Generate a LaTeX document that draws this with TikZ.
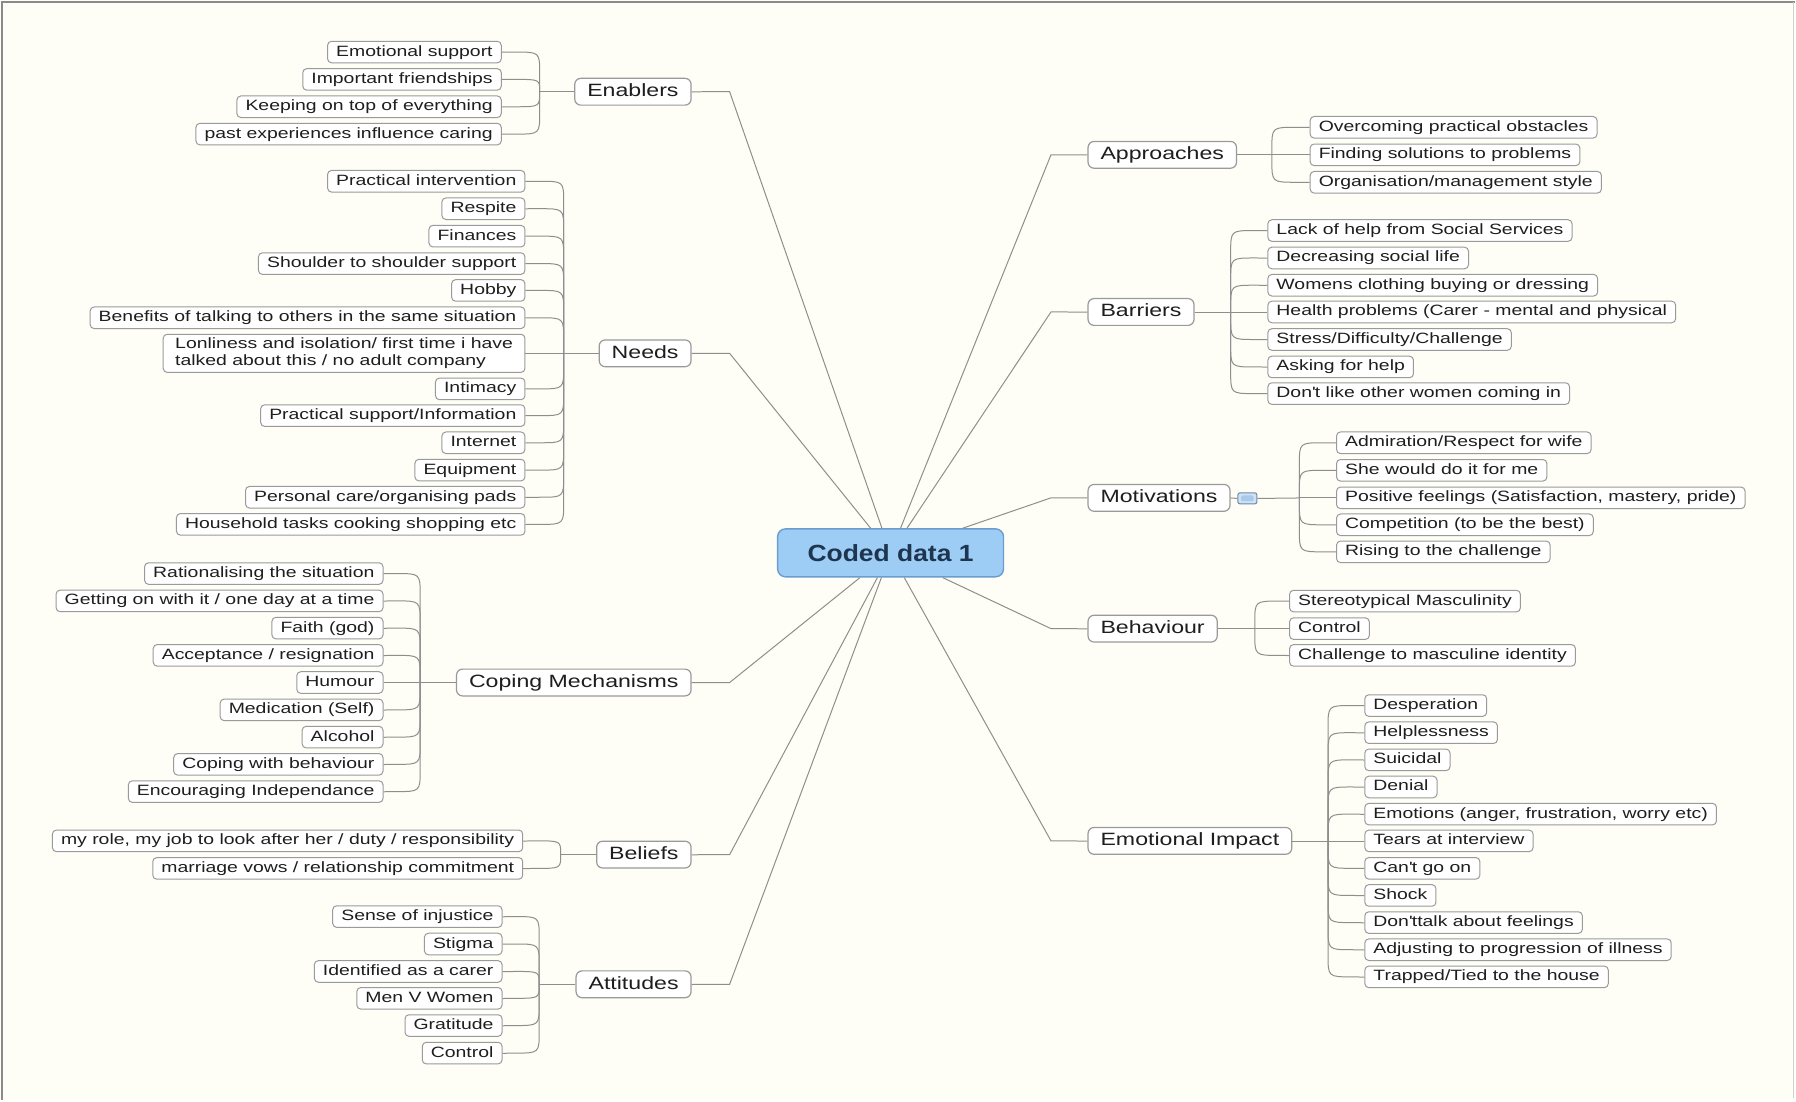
\documentclass[tikz,border=0pt]{standalone}
\usepackage{fontspec}
\setmainfont[FakeStretch=1.3]{Liberation Sans}
\newfontfamily\hubfont[FakeStretch=1.13]{Liberation Sans}

\definecolor{bgcream}{HTML}{FEFEF6}
\definecolor{framegray}{HTML}{8A8A8A}
\definecolor{boxline}{HTML}{9A9A9A}
\definecolor{linkgray}{HTML}{8E8E8E}
\definecolor{ink}{HTML}{1E1E1E}
\definecolor{hubfill}{HTML}{9DCCF5}
\definecolor{hubline}{HTML}{6A9CD0}
\definecolor{hubink}{HTML}{1E3550}
\definecolor{iconfill}{HTML}{CFE2F5}
\definecolor{iconinner}{HTML}{A9C9EA}
\definecolor{iconline}{HTML}{6F88A8}

% child topic: its anchor, x position, spine x, parent y, junction and direction
% are set per branch through \kanc, \kx, \spx, \pary, \jname, \dirn
\newcommand\KID[4][]{%
  \node[kid,anchor=\kanc,#1] (#2) at (\kx,#3) {#4};
  \pgfmathsetmacro\kdy{#3-\pary}%
  \pgfmathsetmacro\kry{min(22,abs(\kdy))*sign(\kdy)}%
  \ifdim\kdy pt=0pt
    \draw[link] (\jname) -- (#2.\kanc);
  \else
    \draw[link] (\jname) -- (\spx,#3-\kry) .. controls (\spx,#3) .. (\spx+\dirn*24,#3) -- (#2.\kanc);
  \fi}
\newcommand\LEFTGROUP[4]{\def\spx{#1}\def\pary{#2}\def\kx{#3}\def\jname{#4}\def\dirn{-1}\def\kanc{east}}
\newcommand\RIGHTGROUP[4]{\def\spx{#1}\def\pary{#2}\def\kx{#3}\def\jname{#4}\def\dirn{1}\def\kanc{west}}
\newcommand\apos{\textquotesingle}

\begin{document}
\begin{tikzpicture}[x=0.5pt,y=-0.5pt,
  kid/.style={draw=boxline, fill=white, rounded corners=2pt, line width=0.5pt,
    inner xsep=4.3pt, inner ysep=0pt, minimum height=10.8pt,
    text height=5.4pt, text depth=1.4pt, font=\fontsize{7.47}{8.3}\selectfont, text=ink},
  twoline/.style={align=left, text height=, text depth=, inner ysep=1.9pt, inner xsep=6pt},
  branch/.style={draw=boxline, fill=white, rounded corners=3pt, line width=0.6pt,
    inner xsep=6.25pt, inner ysep=0pt, minimum height=13.4pt,
    text height=6.6pt, text depth=1.8pt, font=\fontsize{8.9}{10}\selectfont, text=ink},
  hub/.style={draw=hubline, fill=hubfill, rounded corners=4pt, line width=0.7pt,
    minimum width=113pt, minimum height=24pt,
    font=\hubfont\bfseries\fontsize{11.7}{13}\selectfont, text=hubink},
  icon/.style={draw=iconline, fill=iconfill, rounded corners=1pt, line width=0.5pt,
    minimum width=9.5pt, minimum height=5.5pt, inner sep=0pt,
    path picture={\fill[iconinner] ([shift={(1.6pt,1.3pt)}]path picture bounding box.south west)
      rectangle ([shift={(-1.6pt,-1.3pt)}]path picture bounding box.north east);}},
  link/.style={draw=linkgray, line width=0.5pt},
]
% paper and frame
\fill[bgcream] (0,0) rectangle (1796,1101);
\draw[framegray, line width=0.9pt] (2,1101) -- (2,2) -- (1796,2);
\draw[framegray!40, line width=0.5pt] (1794.5,2) -- (1794.5,1099);

\begin{scope}[yscale=1.002]
% central topic
\node[hub] (hub) at (891,552) {Coded data 1};

% main branches, left
\node[branch, anchor=east] (enab) at (692,91.6) {Enablers};
\node[branch, anchor=east] (needs) at (692,352.8) {Needs};
\node[branch, anchor=east] (cope) at (692,681.5) {Coping Mechanisms};
\node[branch, anchor=east] (beli) at (692,853.3) {Beliefs};
\node[branch, anchor=east] (atti) at (692,982.8) {Attitudes};
% main branches, right
\node[branch, anchor=west] (appr) at (1088,154.6) {Approaches};
\node[branch, anchor=west] (barr) at (1088,311.5) {Barriers};
\node[branch, anchor=west] (moti) at (1088,497.1) {Motivations};
\node[branch, anchor=west] (beha) at (1088,627.7) {Behaviour};
\node[branch, anchor=west] (emot) at (1088,839.6) {Emotional Impact};
\node[icon] (mico) at (1248,497.6) {};

% hub to branches
\draw[link] (hub) -- (730,91.6) -- (enab.east);
\draw[link] (hub) -- (730,352.8) -- (needs.east);
\draw[link] (hub) -- (730,681.5) -- (cope.east);
\draw[link] (hub) -- (730,853.3) -- (beli.east);
\draw[link] (hub) -- (730,982.8) -- (atti.east);
\draw[link] (hub) -- (1051.5,154.6) -- (appr.west);
\draw[link] (hub) -- (1051.5,311.5) -- (barr.west);
\draw[link] (hub) -- (1051.5,497.1) -- (moti.west);
\draw[link] (hub) -- (1051.5,627.7) -- (beha.west);
\draw[link] (hub) -- (1051.5,839.6) -- (emot.west);

% spine junctions
\coordinate (enJ) at (540,91.6);
\coordinate (neJ) at (564,352.8);
\coordinate (coJ) at (420.4,681.5);
\coordinate (beJ) at (561,853.3);
\coordinate (atJ) at (539.5,982.8);
\coordinate (apJ) at (1272.5,154.6);
\coordinate (baJ) at (1231.3,311.5);
\coordinate (moJ) at (1300,497.1);
\coordinate (bhJ) at (1255.4,627.7);
\coordinate (emJ) at (1328.7,839.6);

\draw[link] (enab.west) -- (enJ);
\draw[link] (needs.west) -- (neJ);
\draw[link] (cope.west) -- (coJ);
\draw[link] (beli.west) -- (beJ);
\draw[link] (atti.west) -- (atJ);
\draw[link] (appr.east) -- (apJ);
\draw[link] (barr.east) -- (baJ);
\draw[link] (moti.east) -- (mico.west);
\draw[link] (mico.east) -- (moJ);
\draw[link] (beha.east) -- (bhJ);
\draw[link] (emot.east) -- (emJ);

% Enablers
\LEFTGROUP{540}{91.6}{502}{enJ}
\KID{en1}{52}{Emotional support}
\KID{en2}{79.3}{Important friendships}
\KID{en3}{106.6}{Keeping on top of everything}
\KID{en4}{133.9}{past experiences influence caring}

% Needs
\LEFTGROUP{564}{352.8}{525.7}{neJ}
\KID{ne1}{181}{Practical intervention}
\KID{ne2}{208.4}{Respite}
\KID{ne3}{235.8}{Finances}
\KID{ne4}{263.2}{Shoulder to shoulder support}
\KID{ne5}{290}{Hobby}
\KID{ne6}{317.3}{Benefits of talking to others in the same situation}
\KID[twoline]{ne7}{352.8}{Lonliness and isolation/ first time i have\\talked about this / no adult company}
\KID{ne8}{388.3}{Intimacy}
\KID{ne9}{415}{Practical support/Information}
\KID{ne10}{442.1}{Internet}
\KID{ne11}{469.4}{Equipment}
\KID{ne12}{496.5}{Personal care/organising pads}
\KID{ne13}{523.6}{Household tasks cooking shopping etc}

% Coping Mechanisms
\LEFTGROUP{420.4}{681.5}{383.7}{coJ}
\KID{co1}{572.7}{Rationalising the situation}
\KID{co2}{600}{Getting on with it / one day at a time}
\KID{co3}{627.2}{Faith (god)}
\KID{co4}{654.4}{Acceptance / resignation}
\KID{co5}{681.5}{Humour}
\KID{co6}{708.8}{Medication (Self)}
\KID{co7}{736}{Alcohol}
\KID{co8}{763.2}{Coping with behaviour}
\KID{co9}{790.4}{Encouraging Independance}

% Beliefs
\LEFTGROUP{561}{853.3}{523.5}{beJ}
\KID{be1}{839.6}{my role, my job to look after her / duty / responsibility}
\KID{be2}{867.1}{marriage vows / relationship commitment}

% Attitudes
\LEFTGROUP{539.5}{982.8}{502.8}{atJ}
\KID{at1}{915.2}{Sense of injustice}
\KID{at2}{942.6}{Stigma}
\KID{at3}{970}{Identified as a carer}
\KID{at4}{996.8}{Men V Women}
\KID{at5}{1024}{Gratitude}
\KID{at6}{1051.5}{Control}

% Approaches
\RIGHTGROUP{1272.5}{154.6}{1310.3}{apJ}
\KID{ap1}{127.1}{Overcoming practical obstacles}
\KID{ap2}{154.6}{Finding solutions to problems}
\KID{ap3}{182}{Organisation/management style}

% Barriers
\RIGHTGROUP{1231.3}{311.5}{1268}{baJ}
\KID{ba1}{230.2}{Lack of help from Social Services}
\KID{ba2}{257.6}{Decreasing social life}
\KID{ba3}{284.8}{Womens clothing buying or dressing}
\KID{ba4}{311.5}{Health problems (Carer - mental and physical}
\KID{ba5}{339}{Stress/Difficulty/Challenge}
\KID{ba6}{366.4}{Asking for help}
\KID{ba7}{393}{Don\apos{}t like other women coming in}

% Motivations
\RIGHTGROUP{1300}{497.1}{1336.7}{moJ}
\KID{mo1}{442.1}{Admiration/Respect for wife}
\KID{mo2}{469.6}{She would do it for me}
\KID{mo3}{497.1}{Positive feelings (Satisfaction, mastery, pride)}
\KID{mo4}{524}{Competition (to be the best)}
\KID{mo5}{551}{Rising to the challenge}

% Behaviour
\RIGHTGROUP{1255.4}{627.7}{1289.7}{bhJ}
\KID{bh1}{600.2}{Stereotypical Masculinity}
\KID{bh2}{627.7}{Control}
\KID{bh3}{654.4}{Challenge to masculine identity}

% Emotional Impact
\RIGHTGROUP{1328.7}{839.6}{1365}{emJ}
\KID{em1}{704.5}{Desperation}
\KID{em2}{731.6}{Helplessness}
\KID{em3}{758.7}{Suicidal}
\KID{em4}{785.8}{Denial}
\KID{em5}{812.9}{Emotions (anger, frustration, worry etc)}
\KID{em6}{839.6}{Tears at interview}
\KID{em7}{867}{Can\apos{}t go on}
\KID{em8}{894.1}{Shock}
\KID{em9}{921.2}{Don\apos{}ttalk about feelings}
\KID{em10}{948.3}{Adjusting to progression of illness}
\KID{em11}{975.4}{Trapped/Tied to the house}
\end{scope}
\end{tikzpicture}
\end{document}
